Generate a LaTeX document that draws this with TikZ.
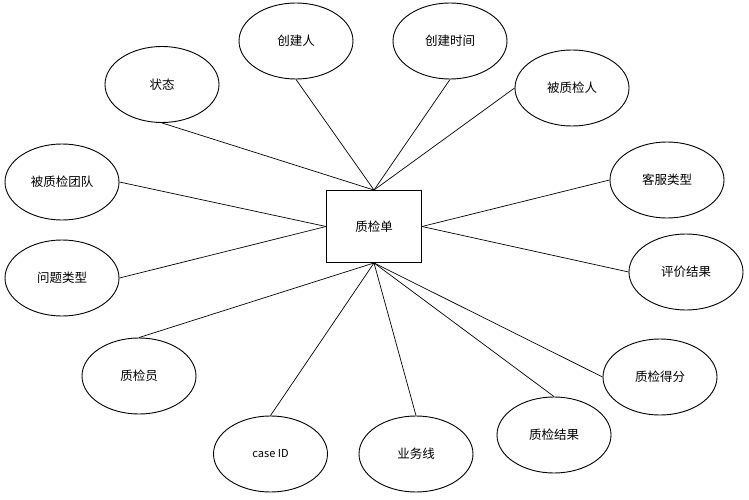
\documentclass[tikz,border=0pt]{standalone}
\usepackage{fontspec}
\newfontfamily\cjk{Noto Sans CJK SC}
\setmainfont{Liberation Sans}
\usetikzlibrary{shapes.geometric}
\begin{document}
\begin{tikzpicture}[x=1pt,y=-1pt,
  attr/.style={ellipse,draw,line width=0.9pt,minimum width=114pt,minimum height=76pt,inner sep=0pt,font=\cjk\fontsize{12.5}{14}\selectfont},
  ent/.style={rectangle,draw,line width=0.9pt,minimum width=95pt,minimum height=72pt,inner sep=0pt,font=\cjk\fontsize{12.5}{14}\selectfont},
  conn/.style={line width=0.7pt}]
\useasboundingbox (0,0) rectangle (749,500);
\node[ent] (e) at (374,226.5) {质检单};
\node[attr] (zt) at (162,84.5) {状态};
\node[attr] (cjr) at (296,41) {创建人};
\node[attr] (cjsj) at (450,41) {创建时间};
\node[attr] (bzjr) at (572,88) {被质检人};
\node[attr] (bzjtd) at (62,182) {被质检团队};
\node[attr] (kflx) at (667,180) {客服类型};
\node[attr] (wtlx) at (62,278) {问题类型};
\node[attr] (pjjg) at (686,272) {评价结果};
\node[attr] (zjy) at (139,376) {质检员};
\node[attr] (zjdf) at (660,377) {质检得分};
\node[attr] (cid) at (270.5,454) {\fontsize{11}{13}\selectfont case ID};
\node[attr] (ywx) at (416,454) {业务线};
\node[attr] (zjjg) at (554,435) {质检结果};
\draw[conn] (zt.south) -- (e.north);
\draw[conn] (cjr.south) -- (e.north);
\draw[conn] (cjsj.south) -- (e.north);
\draw[conn] (bzjr.west) -- (e.north);
\draw[conn] (bzjtd.east) -- (e.west);
\draw[conn] (wtlx.east) -- (e.west);
\draw[conn] (kflx.west) -- (e.east);
\draw[conn] (pjjg.west) -- (e.east);
\draw[conn] (zjy.north) -- (e.south);
\draw[conn] (cid.north) -- (e.south);
\draw[conn] (ywx.north) -- (e.south);
\draw[conn] (zjjg.north) -- (e.south);
\draw[conn] (zjdf.west) -- (e.south);
\end{tikzpicture}
\end{document}
